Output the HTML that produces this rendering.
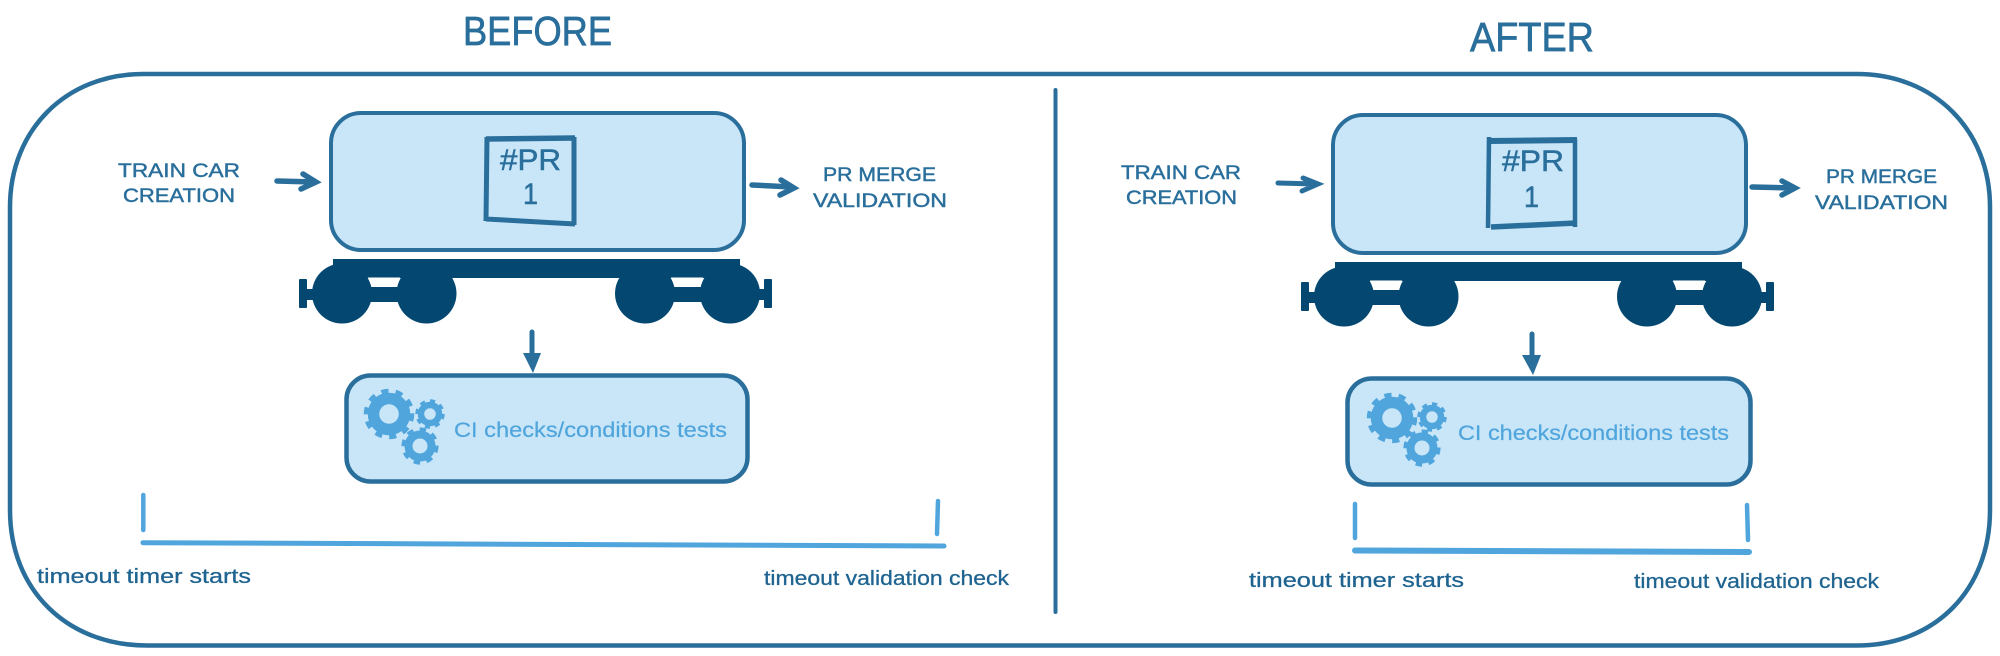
<!DOCTYPE html>
<html><head><meta charset="utf-8"><style>
html,body{margin:0;padding:0;background:#fff}
svg{display:block}
text{font-family:"Liberation Sans",sans-serif;fill:#2a6f9c}
.c{font-size:19.500px;stroke:#2a6f9c;stroke-width:.45px}
.t{font-size:20.500px;fill:#1f6490;stroke:#1f6490;stroke-width:.3px}
.b{font-size:21px;fill:#4fa5dc;stroke:#4fa5dc;stroke-width:.2px}
.h{font-size:41px;stroke:#2a6f9c;stroke-width:.7px}
.p{font-size:30px;stroke:#2a6f9c;stroke-width:.5px}
</style></head><body>
<svg width="2000" height="656" viewBox="0 0 2000 656" xmlns="http://www.w3.org/2000/svg">
<defs>
<g id="truck" fill="#044872">
<rect x="333" y="259" width="407" height="19"/>
<circle cx="342" cy="293.500" r="30"/><circle cx="426.500" cy="293.500" r="30"/>
<circle cx="645" cy="293.500" r="30"/><circle cx="730" cy="293.500" r="30"/>
<rect x="334" y="262" width="20" height="17"/><rect x="720" y="262" width="20" height="17"/>
<path d="M368 277.500H400L397 287H372Z" fill="#fff"/>
<path d="M671 277.500H703L700 287H675Z" fill="#fff"/>
<rect x="365" y="287" width="37" height="15"/><rect x="668" y="287" width="38" height="15"/>
<rect x="299" y="279" width="8" height="29" rx="1"/><rect x="305" y="289" width="10" height="11"/>
<rect x="764" y="279" width="8" height="29" rx="1"/><rect x="758" y="289" width="8" height="11"/>
</g>
<g id="g1" fill="none" stroke="#4fa5dc"><circle r="15.500" stroke-width="11.500"/><circle r="22.500" stroke-width="5.500" pathLength="20" stroke-dasharray="1 1"/></g>
<g id="g2" fill="none" stroke="#4fa5dc"><circle r="9" stroke-width="6.500"/><circle r="13" stroke-width="3.500" pathLength="16" stroke-dasharray="1 1"/></g>
<g id="g3" fill="none" stroke="#4fa5dc"><circle r="11.500" stroke-width="8"/><circle r="16.500" stroke-width="4.200" pathLength="16" stroke-dasharray="1 1"/></g>
</defs>

<text class="h" x="463" y="45" textLength="149" lengthAdjust="spacingAndGlyphs">BEFORE</text>
<text class="h" x="1470" y="51" textLength="124" lengthAdjust="spacingAndGlyphs">AFTER</text>

<path d="M10 207C10 130 66 74 143 74H1857C1934 74 1990 130 1990 207V510C1990 590 1935 645.500 1857 645.500H147C67 645.500 10 590 10 510Z" fill="none" stroke="#2a6f9c" stroke-width="4.500"/>
<path d="M1055.500 90V612" stroke="#2a6f9c" stroke-width="4" stroke-linecap="round"/>

<!-- LEFT -->
<rect x="331" y="113" width="413" height="137" rx="30" fill="#c9e6f9" stroke="#2a6f9c" stroke-width="4"/>
<path d="M486 139L575 138" fill="none" stroke="#2a6f9c" stroke-width="5.500"/>
<path d="M487 137L486 221M486 219L575 224" fill="none" stroke="#2a6f9c" stroke-width="5"/>
<path d="M574 137L574 225" fill="none" stroke="#2a6f9c" stroke-width="5"/>
<text class="p" x="500" y="170" textLength="61" lengthAdjust="spacingAndGlyphs">#PR</text>
<text class="p" x="523" y="204" textLength="15" lengthAdjust="spacingAndGlyphs">1</text>
<text class="c" x="118" y="177" textLength="122" lengthAdjust="spacingAndGlyphs">TRAIN CAR</text>
<text class="c" x="123" y="202" textLength="112" lengthAdjust="spacingAndGlyphs">CREATION</text>
<text class="c" x="823" y="181" textLength="113" lengthAdjust="spacingAndGlyphs">PR MERGE</text>
<text class="c" x="813" y="207" textLength="134" lengthAdjust="spacingAndGlyphs">VALIDATION</text>
<path d="M277 181L314 182M303 174L316 182L301 189" fill="none" stroke="#2a6f9c" stroke-width="5.500" stroke-linecap="round"/>
<path d="M752 185L792 187M781 180L794 188L780 195" fill="none" stroke="#2a6f9c" stroke-width="5.500" stroke-linecap="round"/>
<use href="#truck"/>
<path d="M532 332V356" stroke="#2a6f9c" stroke-width="5" stroke-linecap="round"/>
<path d="M523 353H541L533 373Z" fill="#2a6f9c"/>
<rect x="346.500" y="375.500" width="401" height="106" rx="24" fill="#c9e6f9" stroke="#2a6f9c" stroke-width="4.500"/>
<use href="#g1" x="389" y="414"/><use href="#g2" x="430" y="414"/><use href="#g3" x="420" y="446"/>
<text class="b" x="454" y="437" textLength="273" lengthAdjust="spacingAndGlyphs">CI checks/conditions tests</text>
<path d="M143.300 495V530M938 501L937 534" stroke="#4fa5dc" stroke-width="4.500" stroke-linecap="round"/>
<path d="M143 542.700L944 546" stroke="#4fa5dc" stroke-width="5" stroke-linecap="round"/>
<text class="t" x="37" y="583" textLength="214" lengthAdjust="spacingAndGlyphs">timeout timer starts</text>
<text class="t" x="764" y="585" textLength="245" lengthAdjust="spacingAndGlyphs">timeout validation check</text>

<!-- RIGHT -->
<rect x="1333" y="115" width="413" height="138" rx="30" fill="#c9e6f9" stroke="#2a6f9c" stroke-width="4"/>
<path d="M1489 141L1577 140" fill="none" stroke="#2a6f9c" stroke-width="6"/>
<path d="M1489 137L1488 228" fill="none" stroke="#2a6f9c" stroke-width="4.500"/>
<path d="M1491 227L1576 223" fill="none" stroke="#2a6f9c" stroke-width="5.500"/>
<path d="M1575 139L1575 227" fill="none" stroke="#2a6f9c" stroke-width="4.500"/>
<text class="p" x="1502" y="171" textLength="62" lengthAdjust="spacingAndGlyphs">#PR</text>
<text class="p" x="1524" y="207" textLength="15" lengthAdjust="spacingAndGlyphs">1</text>
<text class="c" x="1121" y="179" textLength="120" lengthAdjust="spacingAndGlyphs">TRAIN CAR</text>
<text class="c" x="1126" y="204" textLength="111" lengthAdjust="spacingAndGlyphs">CREATION</text>
<text class="c" x="1826" y="183" textLength="111" lengthAdjust="spacingAndGlyphs">PR MERGE</text>
<text class="c" x="1815" y="209" textLength="133" lengthAdjust="spacingAndGlyphs">VALIDATION</text>
<path d="M1278 183L1316 184M1303 178L1318 184L1302 191" fill="none" stroke="#2a6f9c" stroke-width="5" stroke-linecap="round"/>
<path d="M1752 187L1793 188M1782 181L1795 188L1782 195" fill="none" stroke="#2a6f9c" stroke-width="5.500" stroke-linecap="round"/>
<use href="#truck" x="1002" y="3"/>
<path d="M1532 334V358" stroke="#2a6f9c" stroke-width="5" stroke-linecap="round"/>
<path d="M1522 355H1541L1533 375Z" fill="#2a6f9c"/>
<rect x="1347.500" y="378.500" width="403" height="106" rx="24" fill="#c9e6f9" stroke="#2a6f9c" stroke-width="4.500"/>
<use href="#g1" x="1392" y="418"/><use href="#g2" x="1432" y="417"/><use href="#g3" x="1422" y="448"/>
<text class="b" x="1458" y="440" textLength="271" lengthAdjust="spacingAndGlyphs">CI checks/conditions tests</text>
<path d="M1355 504V538M1747 505L1748 540" stroke="#4fa5dc" stroke-width="4.500" stroke-linecap="round"/>
<path d="M1355 550.500L1749 552" stroke="#4fa5dc" stroke-width="6" stroke-linecap="round"/>
<text class="t" x="1249" y="587" textLength="215" lengthAdjust="spacingAndGlyphs">timeout timer starts</text>
<text class="t" x="1634" y="588" textLength="245" lengthAdjust="spacingAndGlyphs">timeout validation check</text>
</svg>
</body></html>
